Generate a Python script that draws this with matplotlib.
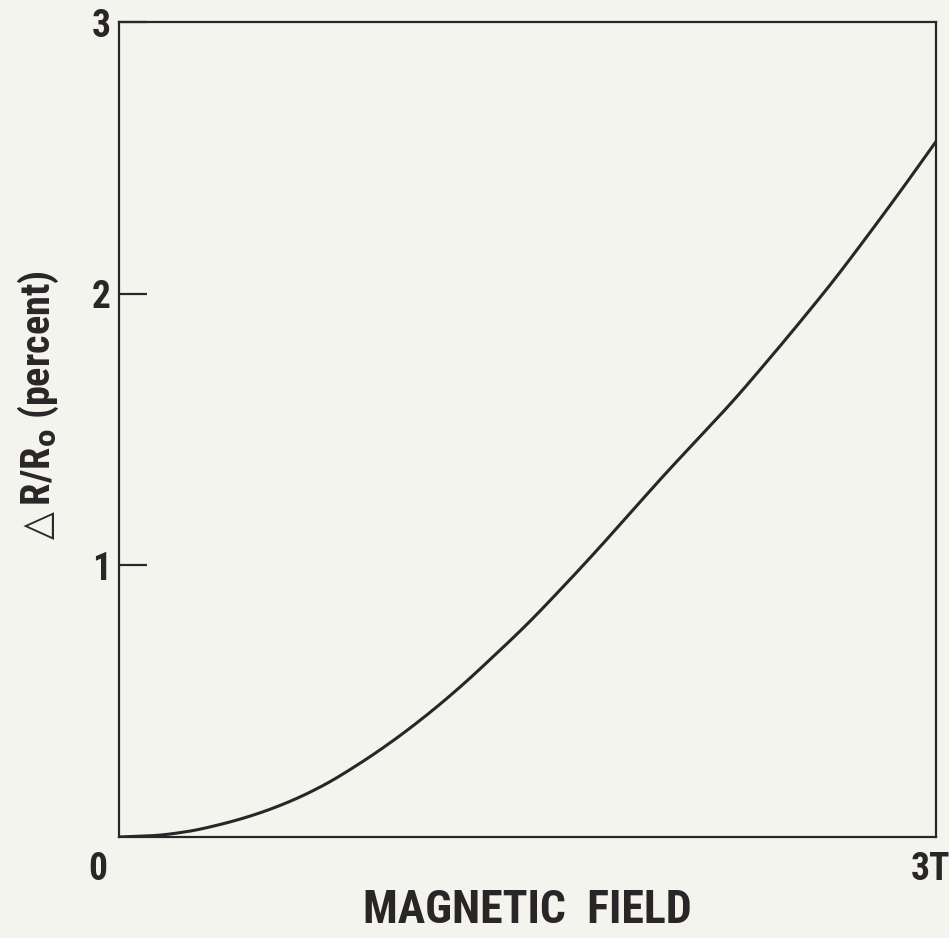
import numpy as np
import matplotlib.pyplot as plt
import matplotlib.transforms as mtransforms

# Data (field in T, resistance change in percent)
field = [0.0, 0.125, 0.25, 0.375, 0.5, 0.625, 0.75, 0.875, 1.0, 1.125, 1.25, 1.375,
         1.5, 1.625, 1.75, 1.875, 2.0, 2.125, 2.25, 2.375, 2.5, 2.625, 2.75, 2.875, 3.0]
dr_over_r = [0.0, 0.005, 0.02, 0.047, 0.083, 0.13, 0.19, 0.265, 0.35, 0.445, 0.55, 0.665,
             0.785, 0.915, 1.05, 1.19, 1.33, 1.465, 1.60, 1.745, 1.895, 2.05, 2.215, 2.385, 2.56]
x_ticks = [0, 3]
x_ticklabels = ['0', '3T']
y_ticks = [1, 2, 3]
y_ticklabels = ['1', '2', '3']

ink = '#2a2527'
bg = '#f4f4ef'
font = ['Roboto Condensed', 'DejaVu Sans Condensed', 'Liberation Sans Narrow', 'Roboto', 'DejaVu Sans']

plt.rcParams['font.family'] = font
plt.rcParams['font.stretch'] = 'condensed'
plt.rcParams['mathtext.fontset'] = 'dejavusans'


def pchip(x, y, xs):
    # monotone cubic, only used to draw a smooth line through the read points
    x = np.asarray(x, float)
    y = np.asarray(y, float)
    h = np.diff(x)
    d = np.diff(y) / h
    m = np.zeros_like(y)
    for k in range(1, len(x) - 1):
        if d[k - 1] * d[k] > 0:
            w1 = 2 * h[k] + h[k - 1]
            w2 = h[k] + 2 * h[k - 1]
            m[k] = (w1 + w2) / (w1 / d[k - 1] + w2 / d[k])
    m[0] = d[0]
    m[-1] = d[-1]
    i = np.clip(np.searchsorted(x, xs) - 1, 0, len(x) - 2)
    t = (xs - x[i]) / h[i]
    h00 = 2 * t**3 - 3 * t**2 + 1
    h10 = t**3 - 2 * t**2 + t
    h01 = -2 * t**3 + 3 * t**2
    h11 = t**3 - t**2
    return h00 * y[i] + h10 * h[i] * m[i] + h01 * y[i + 1] + h11 * h[i] * m[i + 1]


fig = plt.figure(figsize=(9.49, 9.38), dpi=100, facecolor=bg)
ax = fig.add_axes([119/949, 1 - 837/938, (936 - 119)/949, (837 - 22)/938])
ax.set_facecolor(bg)

xs = np.linspace(field[0], field[-1], 400)
ax.plot(xs, pchip(field, dr_over_r, xs), color=ink, lw=2.2)

ax.set_xlim(0, 3)
ax.set_ylim(0, 3)

for s in ax.spines.values():
    s.set_color(ink)
    s.set_linewidth(1.6)

ax.set_xticks(x_ticks)
ax.set_xticklabels(x_ticklabels, fontsize=27, fontweight='bold', color=ink)
ax.set_yticks(y_ticks)
ax.set_yticklabels(y_ticklabels, fontsize=27, fontweight='bold', color=ink)
ax.tick_params(axis='y', direction='in', length=20, width=1.6, color=ink, pad=6)
ax.tick_params(axis='x', direction='in', length=0, pad=10)

# nudge the x tick labels like the original
lbls = ax.get_xticklabels()
lbls[0].set_transform(lbls[0].get_transform() + mtransforms.ScaledTranslation(-21/100, 0, fig.dpi_scale_trans))
lbls[1].set_transform(lbls[1].get_transform() + mtransforms.ScaledTranslation(-6/100, 0, fig.dpi_scale_trans))

ax.set_xlabel('MAGNETIC  FIELD', fontsize=33, fontweight='bold', color=ink)
ax.xaxis.set_label_coords(0.5, -0.062)
ax.set_ylabel('$\\triangle$R/R$_{\\mathbf{o}}$ (percent)', fontsize=29, fontweight='bold', color=ink)
ax.yaxis.set_label_coords(-0.099, 0.526)
ax.yaxis.label.set_va('center')

fig.savefig('out.png', dpi=100, facecolor=bg)
